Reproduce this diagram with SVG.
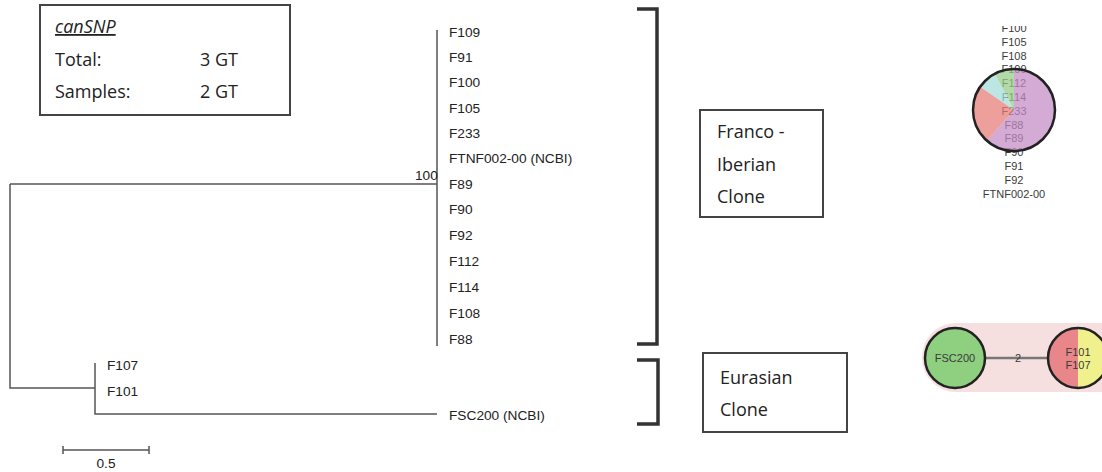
<svg xmlns="http://www.w3.org/2000/svg" width="1102" height="472" viewBox="0 0 1102 472">
<style>
.box{fill:#fff;stroke:#444;stroke-width:2}
.cal{font-family:"Open Sans","Liberation Sans",sans-serif;font-size:18px;fill:#222}
.tl{font-family:"Liberation Sans",Arial,sans-serif;font-size:13.7px;fill:#222}
.br{fill:none;stroke:#333;stroke-width:3.5}
.tr{fill:none;stroke:#555;stroke-width:1.5}
.nl{font-family:"Liberation Sans",Arial,sans-serif;font-size:11px;fill:#3a3a3a;text-anchor:middle}
.ring{fill:none;stroke:#222;stroke-width:2.5}
</style>
<defs>
<clipPath id="topclip"><rect x="900" y="26" width="202" height="200"/></clipPath>
</defs>
<rect width="1102" height="472" fill="#fff"/>

<g id="legend">
<rect class="box" x="40" y="5" width="250" height="110"/>
<text class="cal" x="55" y="33" font-style="italic" text-decoration="underline">canSNP</text>
<text class="cal" x="55" y="66">Total:</text>
<text class="cal" x="200" y="66">3 GT</text>
<text class="cal" x="55" y="98">Samples:</text>
<text class="cal" x="200" y="98">2 GT</text>
</g>

<g id="tree">
<path class="tr" d="M10,184 H437 M437,30 V346 M10,184 V388 H95 M95,363 V414 H437"/>
<text class="tl" x="415" y="180" font-size="11">100</text>
<g id="leaves">
<text class="tl" x="449" y="37">F109</text>
<text class="tl" x="449" y="62">F91</text>
<text class="tl" x="449" y="87">F100</text>
<text class="tl" x="449" y="113">F105</text>
<text class="tl" x="449" y="138">F233</text>
<text class="tl" x="449" y="163">FTNF002-00 (NCBI)</text>
<text class="tl" x="449" y="189">F89</text>
<text class="tl" x="449" y="214">F90</text>
<text class="tl" x="449" y="240">F92</text>
<text class="tl" x="449" y="266">F112</text>
<text class="tl" x="449" y="292">F114</text>
<text class="tl" x="449" y="318">F108</text>
<text class="tl" x="449" y="344">F88</text>
<text class="tl" x="107" y="370">F107</text>
<text class="tl" x="107" y="396">F101</text>
<text class="tl" x="449" y="420">FSC200 (NCBI)</text>
</g>
<path class="tr" d="M63,450 H149 M63,446 V454 M149,446 V454"/>
<text class="tl" x="106" y="468" font-size="11" text-anchor="middle">0.5</text>
</g>

<g id="brackets">
<path class="br" d="M637,9 H657 V344 H637"/>
<path class="br" d="M637,360 H658 V424 H637"/>
</g>

<g id="franco">
<rect class="box" x="700" y="110" width="123" height="107"/>
<text class="cal" x="717" y="138">Franco -</text>
<text class="cal" x="717" y="171">Iberian</text>
<text class="cal" x="717" y="203">Clone</text>
</g>

<g id="eurasian">
<rect class="box" x="703" y="353" width="144" height="79"/>
<text class="cal" x="720" y="384">Eurasian</text>
<text class="cal" x="720" y="416">Clone</text>
</g>

<g id="pie-node">
<g clip-path="url(#topclip)">
<text class="nl" x="1014" y="32">F100</text>
</g>
<text class="nl" x="1014" y="46">F105</text>
<text class="nl" x="1014" y="60">F108</text>
<text class="nl" x="1014" y="73">F109</text>
<text class="nl" x="1014" y="87">F112</text>
<text class="nl" x="1014" y="101">F114</text>
<text class="nl" x="1014" y="115">F233</text>
<text class="nl" x="1014" y="129">F88</text>
<text class="nl" x="1014" y="142">F89</text>
<text class="nl" x="1014" y="156">F90</text>
<text class="nl" x="1014" y="170">F91</text>
<text class="nl" x="1014" y="184">F92</text>
<text class="nl" x="1014" y="198">FTNF002-00</text>
<g fill-opacity="0.72">
<path d="M1014,110 L1014,69 A41,41 0 1 1 986.8,140.7 Z" fill="#c48ac4"/>
<path d="M1014,110 L986.8,140.7 A41,41 0 0 1 980.3,86.7 Z" fill="#e47a74"/>
<path d="M1014,110 L980.3,86.7 A41,41 0 0 1 994.9,73.7 Z" fill="#a2dcd8"/>
<path d="M1014,110 L994.9,73.7 A41,41 0 0 1 1014,69 Z" fill="#94cc86"/>
</g>
<circle class="ring" cx="1014" cy="110" r="41"/>
</g>

<g id="eurasian-network">
<rect x="922" y="323" width="220" height="69" rx="34" fill="#f5dfdf"/>
<g id="edge">
<line x1="985" y1="358" x2="1048" y2="358" stroke="#777" stroke-width="2.5"/>
<text class="nl" x="1018" y="362" font-size="12" fill="#555">2</text>
</g>
<g id="fsc200">
<circle cx="955" cy="358" r="30" fill="#8fcf80" stroke="#222" stroke-width="2.5"/>
<text class="nl" x="955" y="362">FSC200</text>
</g>
<g id="f101-f107">
<path d="M1078,328 A30,30 0 0 0 1078,388 Z" fill="#e8868a"/>
<path d="M1078,328 A30,30 0 0 1 1078,388 Z" fill="#f0f08c"/>
<text class="nl" x="1078" y="356">F101</text>
<text class="nl" x="1078" y="369">F107</text>
<circle class="ring" cx="1078" cy="358" r="30"/>
</g>
</g>
</svg>
